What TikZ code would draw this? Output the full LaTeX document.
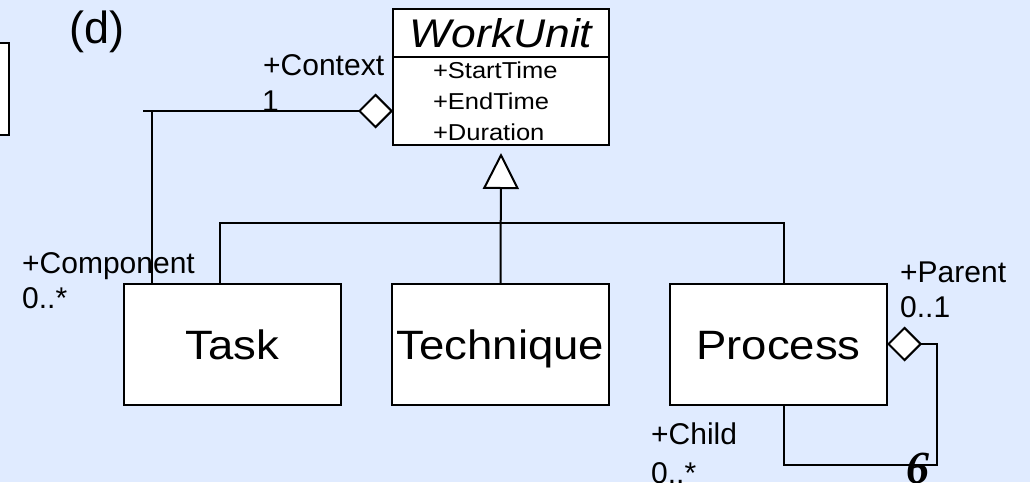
\documentclass[tikz,border=0pt]{standalone}
\usepackage{fontspec}
\setmainfont{Liberation Sans}
\newfontfamily\widefont{Liberation Sans}[FakeStretch=1.11]
\newfontfamily\sixfont{Liberation Serif}
\usetikzlibrary{positioning, arrows.meta}
\definecolor{slide-blue}{RGB}{224,235,255}

\begin{document}
\begin{tikzpicture}[x=1pt, y=-1pt]
	\tikzset{cls/.style={rectangle, draw, fill=white, line width=2pt, outer sep=0pt, minimum width=217pt, minimum height=121pt, inner sep=1pt, text height=30pt, text depth=0pt, font=\widefont\fontsize{41}{49}\selectfont}}
	\tikzset{lbl/.style={anchor=base west, inner sep=0pt, font=\fontsize{30}{36}\selectfont}}
	\tikzset{assoc/.style={line width=2pt}}
	\tikzset{agg/.style={{Diamond[fill=white, length=35pt, width=35pt]}-, assoc}}
	\tikzset{gen/.style={-{Triangle[fill=white, length=36pt, width=36pt]}, assoc}}

	\useasboundingbox (0,0) rectangle (1030,482);
	\fill[slide-blue] (0,0) rectangle (1030,482);
	\clip (0,0) rectangle (1030,482);
	% box cut off at the left edge
	\draw[line width=2pt, fill=white] (-30,43) rectangle (9,135);

	\node[font=\fontsize{45}{54}\selectfont] (label d) at (97,32) {(d)};

	\node[cls, minimum width=216pt, minimum height=48pt, text height=29pt, font=\widefont\fontsize{40}{48}\selectfont\itshape] (wu name) at (501,33) {WorkUnit};
	\node[cls, below=0pt of wu name, minimum width=216pt, minimum height=88pt, text width=136pt, inner xsep=40pt, text height=, text depth=, align=left, font=\widefont\fontsize{23}{31}\selectfont] (wu attr) {+StartTime\\+EndTime\\+Duration};

	\node[cls] (technique) at (500.5,344) {Technique};
	\node[cls, left=51pt of technique] (task) {Task};
	\node[cls, right=61pt of technique] (process) {Process};

	% generalisation
	\coordinate (bus) at (technique.north |- 0,223);
	\draw[gen] (technique.north) -- ([yshift=-8pt]wu attr.south);
	\draw[assoc] ([xshift=-13pt]task.north) |- (bus) -| ([xshift=5pt]process.north);

	% context / component
	\coordinate (ctx end) at (143,111);
	\coordinate (ctx drop) at (152,111);
	\draw[agg] ([yshift=-10pt]wu attr.west) -- (ctx end);
	\draw[assoc] (ctx drop) -- (ctx drop |- task.north);
	\node[lbl] (ctx role) at (263,75) {+Context};
	\node[lbl] (ctx mult) at (262,111) {1};
	\node[lbl] (comp role) at (22,273) {+Component};
	\node[lbl] (comp mult) at (22,308) {0..*};

	% parent / child
	\coordinate (loop corner) at (937,465);
	\draw[agg] (process.east) -| (loop corner) -| ([xshift=5pt]process.south);
	\node[lbl] (parent role) at (900,282) {+Parent};
	\node[lbl] (parent mult) at (900,317) {0..1};
	\node[lbl] (child role) at (651,444) {+Child};
	\node[lbl] (child mult) at (651,483) {0..*};
	\node[font=\sixfont\bfseries\itshape\fontsize{46}{50}\selectfont, inner sep=0pt] (nav mark) at (918,468) {6};
\end{tikzpicture}
\end{document}
